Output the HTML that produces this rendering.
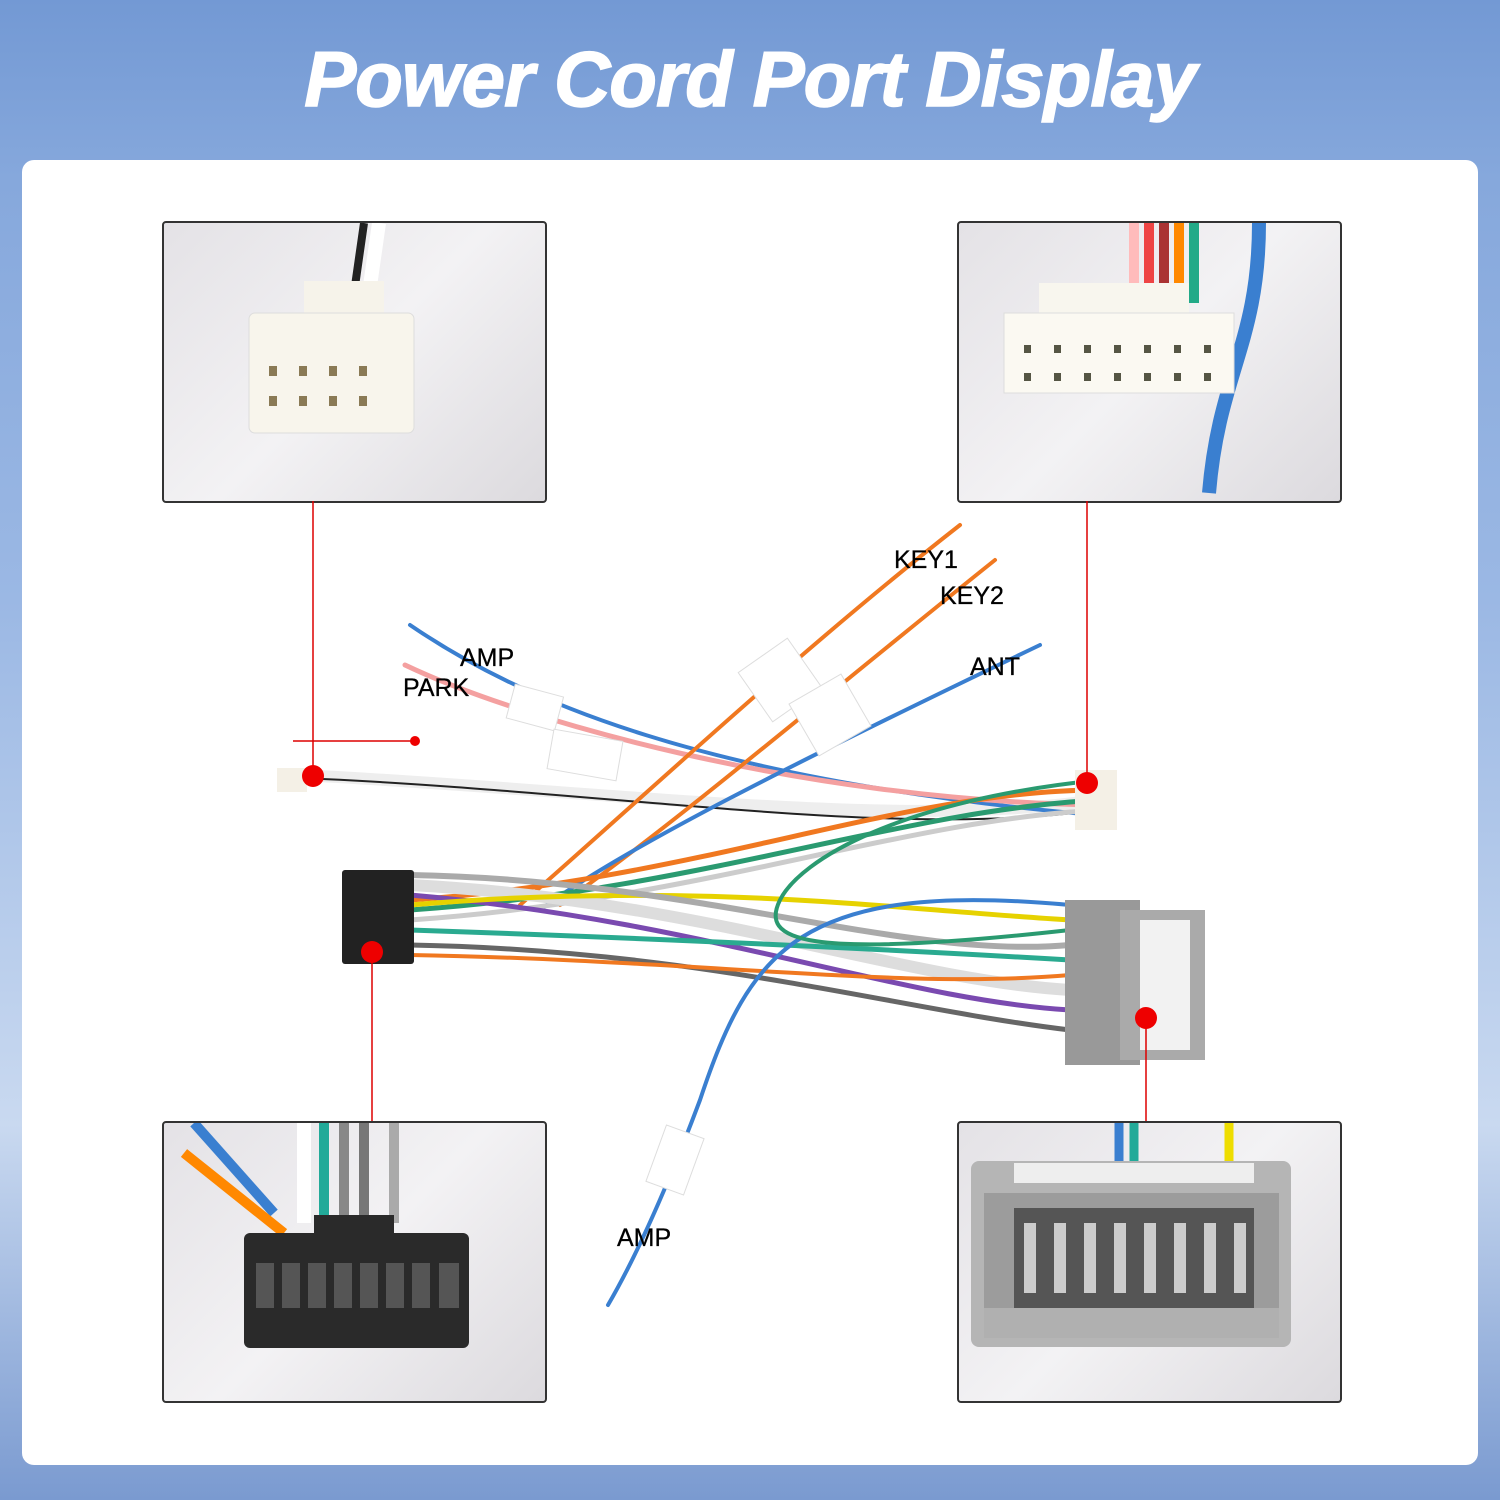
<!DOCTYPE html>
<html><head><meta charset="utf-8"><style>
body{margin:0;width:1500px;height:1500px;overflow:hidden;background:linear-gradient(180deg,#7399d4 0%,#86a8dc 12%,#9bb8e4 40%,#c9d9f0 75%,#7a9ad0 100%);position:relative;font-family:"Liberation Sans",sans-serif}
.title{position:absolute;top:34px;left:0;width:1500px;text-align:center;color:#fff;font-weight:900;font-style:italic;font-size:78px;letter-spacing:-1px;-webkit-text-stroke:1.5px #fff}
.card{position:absolute;left:22px;top:160px;width:1456px;height:1305px;background:#fff;border-radius:12px}
.box{position:absolute;width:381px;height:278px;border:2px solid #333;border-radius:4px;background:linear-gradient(135deg,#e4e2e6,#f3f2f4 50%,#dcdade);overflow:hidden}
.lbl{position:absolute;font-size:25px;color:#000;-webkit-text-stroke:0.3px #000}
</style></head><body>
<div class="title">Power Cord Port Display</div>
<div class="card"></div>
<div class="box" style="left:162px;top:221px">
 <svg width="381" height="278"><path d="M200 0 L190 70" stroke="#222" stroke-width="8"/><path d="M215 0 L205 70" stroke="#fff" stroke-width="14"/>
 <rect x="140" y="58" width="80" height="40" fill="#f6f3ea"/><rect x="85" y="90" width="165" height="120" rx="6" fill="#f8f5ec" stroke="#ddd"/>
 <g fill="#8a7a55"><rect x="105" y="143" width="8" height="10"/><rect x="135" y="143" width="8" height="10"/><rect x="165" y="143" width="8" height="10"/><rect x="195" y="143" width="8" height="10"/><rect x="105" y="173" width="8" height="10"/><rect x="135" y="173" width="8" height="10"/><rect x="165" y="173" width="8" height="10"/><rect x="195" y="173" width="8" height="10"/></g></svg></div>
<div class="box" style="left:957px;top:221px">
 <svg width="381" height="278"><g stroke-width="10"><path d="M190 0V80" stroke="#e44"/><path d="M205 0V80" stroke="#a33"/><path d="M220 0V80" stroke="#f80"/><path d="M235 0V80" stroke="#2a8"/><path d="M175 0V80" stroke="#fbb"/></g>
 <path d="M300 0 C300 120 260 150 250 270" stroke="#3a7fd0" stroke-width="14" fill="none"/>
 <rect x="80" y="60" width="150" height="40" fill="#f8f6ee"/><rect x="45" y="90" width="230" height="80" fill="#fbf9f2" stroke="#ddd"/>
 <g fill="#554"><rect x="65" y="122" width="7" height="8"/><rect x="95" y="122" width="7" height="8"/><rect x="125" y="122" width="7" height="8"/><rect x="155" y="122" width="7" height="8"/><rect x="185" y="122" width="7" height="8"/><rect x="215" y="122" width="7" height="8"/><rect x="245" y="122" width="7" height="8"/><rect x="65" y="150" width="7" height="8"/><rect x="95" y="150" width="7" height="8"/><rect x="125" y="150" width="7" height="8"/><rect x="155" y="150" width="7" height="8"/><rect x="185" y="150" width="7" height="8"/><rect x="215" y="150" width="7" height="8"/><rect x="245" y="150" width="7" height="8"/></g></svg></div>
<div class="box" style="left:162px;top:1121px">
 <svg width="381" height="278"><g stroke-width="10" fill="none"><path d="M30 0 L110 90" stroke="#3a7fd0"/><path d="M20 30 L120 110" stroke="#f80"/><path d="M140 0V100" stroke="#fff" stroke-width="14"/><path d="M160 0V100" stroke="#2a9"/><path d="M180 0V100" stroke="#888"/><path d="M200 0V100" stroke="#777"/><path d="M230 0V100" stroke="#aaa"/></g>
 <rect x="80" y="110" width="225" height="115" rx="6" fill="#2a2a2a"/><rect x="150" y="92" width="80" height="25" fill="#2a2a2a"/>
 <g fill="#555"><rect x="92" y="140" width="18" height="45"/><rect x="118" y="140" width="18" height="45"/><rect x="144" y="140" width="18" height="45"/><rect x="170" y="140" width="18" height="45"/><rect x="196" y="140" width="18" height="45"/><rect x="222" y="140" width="18" height="45"/><rect x="248" y="140" width="18" height="45"/><rect x="275" y="140" width="20" height="45"/></g></svg></div>
<div class="box" style="left:957px;top:1121px">
 <svg width="381" height="278"><g stroke-width="9"><path d="M160 0V45" stroke="#3a7fd0"/><path d="M175 0V45" stroke="#2a9"/><path d="M270 0V45" stroke="#ed0"/></g>
 <rect x="12" y="38" width="320" height="186" rx="8" fill="#b5b5b5"/><rect x="55" y="40" width="240" height="20" fill="#eee"/>
 <rect x="25" y="70" width="295" height="145" fill="#9c9c9c"/><rect x="55" y="85" width="240" height="110" fill="#555"/>
 <g fill="#ccc"><rect x="65" y="100" width="12" height="70"/><rect x="95" y="100" width="12" height="70"/><rect x="125" y="100" width="12" height="70"/><rect x="155" y="100" width="12" height="70"/><rect x="185" y="100" width="12" height="70"/><rect x="215" y="100" width="12" height="70"/><rect x="245" y="100" width="12" height="70"/><rect x="275" y="100" width="12" height="70"/></g>
 <rect x="25" y="185" width="295" height="30" fill="#b0b0b0"/></svg></div>
<svg width="1500" height="1500" style="position:absolute;left:0;top:0">
 <g fill="none" stroke-linecap="round">
  <path d="M300 775 C600 790 900 830 1095 800" stroke="#eee" stroke-width="12"/>
  <path d="M300 778 C600 790 900 840 1095 810" stroke="#222" stroke-width="2"/>
  <path d="M410 625 C520 700 700 780 1095 815" stroke="#3a7fd0" stroke-width="4"/>
  <path d="M405 665 C520 720 800 800 1095 805" stroke="#f4a0a0" stroke-width="5"/>
  <path d="M960 525 C800 650 640 800 520 905" stroke="#f07820" stroke-width="4"/>
  <path d="M995 560 C820 700 680 820 560 905" stroke="#f07820" stroke-width="4"/>
  <path d="M1040 645 C800 760 620 850 540 910" stroke="#3a7fd0" stroke-width="4"/>
  <path d="M410 900 C700 880 900 790 1100 790" stroke="#f07820" stroke-width="5"/>
  <path d="M410 910 C700 890 900 810 1100 800" stroke="#2a9a70" stroke-width="5"/>
  <path d="M410 920 C700 900 900 820 1100 810" stroke="#ccc" stroke-width="5"/>
  <path d="M410 885 C700 900 900 980 1070 990" stroke="#ddd" stroke-width="12"/>
  <path d="M410 895 C700 920 900 1000 1070 1010" stroke="#7a4ab0" stroke-width="5"/>
  <path d="M410 905 C700 880 900 910 1070 920" stroke="#e6d200" stroke-width="5"/>
  <path d="M410 930 C700 940 900 950 1070 960" stroke="#2aaa90" stroke-width="5"/>
  <path d="M410 945 C700 950 900 1010 1070 1030" stroke="#666" stroke-width="5"/>
  <path d="M410 955 C700 960 900 990 1070 975" stroke="#f07820" stroke-width="4"/>
  <path d="M410 875 C700 880 900 960 1070 945" stroke="#aaa" stroke-width="6"/>
  <path d="M1070 905 C800 880 750 950 700 1100 C670 1180 640 1250 608 1305" stroke="#3a7fd0" stroke-width="4"/>
  <path d="M1100 780 C900 800 800 860 780 900 C760 940 800 960 1070 930" stroke="#2a9a70" stroke-width="4"/>
 </g>
 <rect x="342" y="870" width="72" height="94" rx="3" fill="#222"/>
 <rect x="1065" y="900" width="75" height="165" fill="#999"/><rect x="1120" y="910" width="85" height="150" fill="#aaa"/><rect x="1140" y="920" width="50" height="130" fill="#f2f2f2"/>
 <rect x="277" y="768" width="30" height="24" fill="#f4f0e6"/><rect x="1075" y="770" width="42" height="60" fill="#f4f0e6"/>
 <g fill="#fff" stroke="#ddd"><rect x="510" y="690" width="50" height="35" transform="rotate(15 535 707)"/><rect x="550" y="735" width="70" height="40" transform="rotate(10 585 755)"/><rect x="750" y="650" width="60" height="60" transform="rotate(-35 780 680)"/><rect x="800" y="685" width="60" height="60" transform="rotate(-30 830 715)"/><rect x="655" y="1130" width="40" height="60" transform="rotate(20 675 1160)"/></g>
 <g stroke="#d00" stroke-width="1.5"><path d="M313 501V776M293 741H415M1087 501V783M372 952V1121M1146 1018V1121"/></g>
 <g fill="#e00"><circle cx="313" cy="776" r="11"/><circle cx="415" cy="741" r="5"/><circle cx="1087" cy="783" r="11"/><circle cx="372" cy="952" r="11"/><circle cx="1146" cy="1018" r="11"/></g>
</svg>
<div class="lbl" style="left:894px;top:546px">KEY1</div>
<div class="lbl" style="left:940px;top:582px">KEY2</div>
<div class="lbl" style="left:970px;top:653px">ANT</div>
<div class="lbl" style="left:460px;top:644px">AMP</div>
<div class="lbl" style="left:403px;top:674px">PARK</div>
<div class="lbl" style="left:617px;top:1224px">AMP</div>
</body></html>
